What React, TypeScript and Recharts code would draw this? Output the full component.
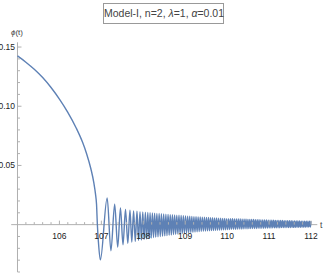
import React from "react";
import { LineChart, Line, XAxis, YAxis, ReferenceLine } from "recharts";

// smooth drop before the ringing starts
const fallT = [105.0, 105.2, 105.4, 105.6, 105.8, 106.0, 106.2, 106.4, 106.55, 106.65, 106.75, 106.82, 106.86, 106.885, 106.905, 106.93];
const fallPhi = [0.1425, 0.1372, 0.1312, 0.1242, 0.1158, 0.106, 0.0948, 0.0816, 0.0697, 0.0597, 0.0472, 0.0355, 0.026, 0.0172, 0.0, -0.0146];

// ringing: alternating minima / maxima
const ringT = [
  106.976, 107.139, 107.228, 107.318, 107.39, 107.456, 107.516, 107.576, 107.631, 107.683,
  107.726, 107.769, 107.809, 107.85, 107.886, 107.922, 107.955, 107.988, 108.019, 108.05,
  108.079, 108.108, 108.136, 108.162, 108.19, 108.217, 108.244,
  108.27, 108.297, 108.324, 108.351, 108.378, 108.405, 108.432, 108.459, 108.486, 108.513,
  108.539, 108.565, 108.591, 108.617, 108.643, 108.669, 108.695, 108.721, 108.747, 108.773,
  108.799, 108.825, 108.851, 108.877, 108.903, 108.929, 108.955, 108.981, 109.007, 109.033,
  109.058, 109.083, 109.108, 109.133, 109.158, 109.183, 109.208, 109.233, 109.258, 109.283,
  109.308, 109.333, 109.358, 109.383, 109.408, 109.433, 109.458, 109.483, 109.508, 109.533,
  109.557, 109.581, 109.605, 109.629, 109.653, 109.677, 109.701, 109.725, 109.749, 109.773,
  109.797, 109.821, 109.845, 109.869, 109.893, 109.917, 109.941, 109.965, 109.989, 110.013,
  110.036, 110.059, 110.082, 110.105, 110.128, 110.151, 110.174, 110.197, 110.22, 110.243,
  110.266, 110.289, 110.312, 110.335, 110.358, 110.381, 110.404, 110.427, 110.45, 110.473,
  110.496, 110.519,
  110.541, 110.563, 110.585, 110.607, 110.629, 110.651, 110.673, 110.695, 110.717, 110.739,
  110.761, 110.783, 110.805, 110.827, 110.849, 110.871, 110.893, 110.915, 110.937, 110.959,
  110.981, 111.003,
  111.024, 111.045, 111.066, 111.087, 111.108, 111.129, 111.15, 111.171, 111.192, 111.213,
  111.234, 111.255, 111.276, 111.297, 111.318, 111.339, 111.36, 111.381, 111.402, 111.423,
  111.444, 111.465, 111.486, 111.507,
  111.527, 111.547, 111.567, 111.587, 111.607, 111.627, 111.647, 111.667, 111.687, 111.707,
  111.727, 111.747, 111.767, 111.787, 111.807, 111.827, 111.847, 111.867, 111.887, 111.907,
  111.927, 111.947, 111.967, 111.987, 112.0,
];
const ringPhi = [
  -0.0298, 0.0226, -0.022, 0.0172, -0.019, 0.0142, -0.017, 0.0128, -0.0157, 0.0121,
  -0.0148, 0.0116, -0.0141, 0.0113, -0.0135, 0.011, -0.013, 0.0107, -0.0125, 0.0105,
  -0.0121, 0.0103, -0.0117, 0.0101, -0.0113, 0.0099, -0.0109,
  0.0096, -0.0106, 0.0095, -0.0103, 0.0094, -0.01, 0.0092, -0.0098, 0.009, -0.0095,
  0.0088, -0.0092, 0.0087, -0.0089, 0.0085, -0.0087, 0.0084, -0.0084, 0.0082, -0.0082,
  0.008, -0.0079, 0.0079, -0.0077, 0.0077, -0.0075, 0.0075, -0.0072, 0.0074, -0.007,
  0.0072, -0.0068, 0.0071, -0.0066, 0.0069, -0.0064, 0.0068, -0.0062, 0.0066, -0.006,
  0.0065, -0.0058, 0.0064, -0.0057, 0.0063, -0.0055, 0.0062, -0.0054, 0.0061, -0.0052,
  0.006, -0.0051, 0.0059, -0.005, 0.0058, -0.0049, 0.0057, -0.0048, 0.0056, -0.0047,
  0.0055, -0.0046, 0.0054, -0.0045, 0.0053, -0.0044, 0.0052, -0.0043, 0.0051, -0.0042,
  0.0051, -0.0041, 0.005, -0.004, 0.005, -0.0039, 0.0049, -0.0039, 0.0048, -0.0038,
  0.0048, -0.0037, 0.0047, -0.0037, 0.0046, -0.0036, 0.0046, -0.0035, 0.0045, -0.0035,
  0.0044, -0.0034,
  0.0044, -0.0033, 0.0043, -0.0033, 0.0043, -0.0032, 0.0042, -0.0032, 0.0041, -0.0031,
  0.0041, -0.0031, 0.004, -0.003, 0.004, -0.003, 0.0039, -0.0029, 0.0039, -0.0029,
  0.0038, -0.0028,
  0.0038, -0.0028, 0.0037, -0.0027, 0.0037, -0.0027, 0.0036, -0.0027, 0.0036, -0.0026,
  0.0035, -0.0026, 0.0035, -0.0025, 0.0035, -0.0025, 0.0034, -0.0025, 0.0034, -0.0024,
  0.0033, -0.0024, 0.0033, -0.0024,
  0.0033, -0.0023, 0.0032, -0.0023, 0.0032, -0.0023, 0.0031, -0.0022, 0.0031, -0.0022,
  0.0031, -0.0022, 0.003, -0.0021, 0.003, -0.0021, 0.003, -0.0021, 0.0029, -0.002,
  0.0029, -0.002, 0.0029, -0.002, 0.0028,
];

const xMajor = [106, 107, 108, 109, 110, 111, 112];
const xMinor = [
  105.2, 105.4, 105.6, 105.8, 106.2, 106.4, 106.6, 106.8, 107.2, 107.4, 107.6, 107.8,
  108.2, 108.4, 108.6, 108.8, 109.2, 109.4, 109.6, 109.8, 110.2, 110.4, 110.6, 110.8,
  111.2, 111.4, 111.6, 111.8,
];
const yMajor = [0.05, 0.1, 0.15];
const yMinor = [-0.04, -0.03, -0.02, -0.01, 0.01, 0.02, 0.03, 0.04, 0.06, 0.07, 0.08, 0.09, 0.11, 0.12, 0.13, 0.14];

const data = [
  ...fallT.map((t, i) => ({ t, phi: fallPhi[i] })),
  ...ringT.map((t, i) => ({ t, phi: ringPhi[i] })),
];

const W = 327;
const H = 273;
const M = { top: 42.3, right: 9.7, bottom: 0, left: 10.2 };
const PLOT_LEFT = M.left + 1;
const X_MIN = 104.85;
const X_MAX = 112.15;
const Y_MIN = -0.04;
const Y_MAX = 0.154;
const PLOT_W = W - PLOT_LEFT - M.right;
const PLOT_H = H - M.top - 1;
const ZERO_Y = M.top + (PLOT_H * Y_MAX) / (Y_MAX - Y_MIN);
const Y_AXIS_X = PLOT_LEFT + (PLOT_W * (105 - X_MIN)) / (X_MAX - X_MIN);

const AXIS = "#b0b0b0";
const TICK_TXT = "#222";
const LINE = "#5e81b5";
const FONT = "'Liberation Sans', Arial, sans-serif";

const XTick = (props: any) => {
  const { x, payload } = props;
  const major = xMajor.includes(payload.value);
  return (
    <g>
      <line x1={x} x2={x} y1={ZERO_Y} y2={ZERO_Y - (major ? 4 : 2.5)} stroke={AXIS} strokeWidth={1} />
      {major && (
        <text x={x} y={ZERO_Y + 14.5} textAnchor="middle" fontSize={8.5} fontFamily={FONT} fill={TICK_TXT}>
          {payload.value}
        </text>
      )}
    </g>
  );
};

const YTick = (props: any) => {
  const { y, payload } = props;
  const major = yMajor.includes(payload.value);
  return (
    <g>
      <line x1={Y_AXIS_X} x2={Y_AXIS_X + (major ? 4 : 2.5)} y1={y} y2={y} stroke={AXIS} strokeWidth={1} />
      {major && (
        <text x={Y_AXIS_X - 2.5} y={y + 3} textAnchor="end" fontSize={8.5} fontFamily={FONT} fill={TICK_TXT}>
          {payload.value.toFixed(2)}
        </text>
      )}
    </g>
  );
};

export default function App() {
  return (
    <div style={{ position: "absolute", left: 0, top: 0, width: W, height: H, background: "#fff", overflow: "hidden" }}>
      <LineChart width={W} height={H} data={data} margin={M}>
        <XAxis
          dataKey="t"
          type="number"
          domain={[X_MIN, X_MAX]}
          ticks={[...xMinor, ...xMajor]}
          interval={0}
          height={1}
          axisLine={false}
          tickLine={false}
          tickSize={0}
          tickMargin={0}
          tick={(p: any) => <XTick {...p} />}
          allowDataOverflow
        />
        <YAxis
          type="number"
          domain={[Y_MIN, Y_MAX]}
          ticks={[...yMinor, ...yMajor]}
          interval={0}
          width={1}
          axisLine={false}
          tickLine={false}
          tickSize={0}
          tickMargin={0}
          tick={(p: any) => <YTick {...p} />}
          allowDataOverflow
        />
        <ReferenceLine y={0} stroke={AXIS} strokeWidth={1} />
        <ReferenceLine x={105} stroke={AXIS} strokeWidth={1} />
        <Line
          type="monotone"
          dataKey="phi"
          stroke={LINE}
          strokeWidth={1.4}
          dot={false}
          activeDot={false}
          isAnimationActive={false}
        />
      </LineChart>
      <div
        style={{
          position: "absolute",
          left: 103,
          top: 3,
          width: 121,
          height: 21,
          boxSizing: "border-box",
          border: "1px solid #999",
          background: "#fff",
          color: "#444",
          fontFamily: FONT,
          fontSize: 10.5,
          lineHeight: "19px",
          textAlign: "center",
          whiteSpace: "nowrap",
        }}
      >
        Model-I, n=2, <i>λ</i>=1, <i>α</i>=0.01
      </div>
      <div style={{ position: "absolute", left: 11, top: 28, fontFamily: FONT, fontSize: 8, color: "#444", whiteSpace: "nowrap" }}>
        <i>ϕ</i>(t)
      </div>
      <div style={{ position: "absolute", left: 320, top: 220, fontFamily: FONT, fontSize: 8.5, color: "#444" }}>
        t
      </div>
    </div>
  );
}
